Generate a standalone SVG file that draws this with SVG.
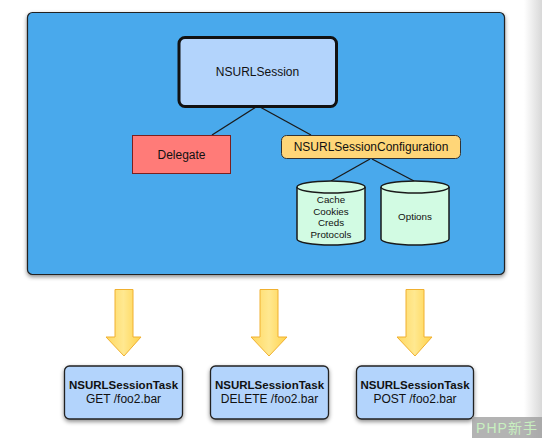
<svg xmlns="http://www.w3.org/2000/svg" width="542" height="438" viewBox="0 0 542 438">
<defs>
<style>
text{font-family:"Liberation Sans",Arial,sans-serif;fill:#111;text-anchor:middle}
.lbl{font-size:12px}
.bold{font-size:11.5px;font-weight:bold}
.sm{font-size:9.8px}
.edge{stroke:#1a1a1a;stroke-width:1.3;fill:none}
.cyl{fill:#d2fbe3;stroke:#1a1a1a;stroke-width:1.5}
.task{fill:#b3d4fc;stroke:#222;stroke-width:1.3}
.arrow{fill:url(#ag);stroke:#f0b030;stroke-width:1}
</style>
<linearGradient id="ag" x1="0" y1="0" x2="1" y2="0">
<stop offset="0" stop-color="#ffd860"/>
<stop offset="0.5" stop-color="#ffe890"/>
<stop offset="1" stop-color="#ffd24a"/>
</linearGradient>
<linearGradient id="edgeg" x1="0" y1="0" x2="1" y2="0">
<stop offset="0" stop-color="#ffffff"/>
<stop offset="1" stop-color="#d8d8d8"/>
</linearGradient>
<filter id="sh" x="-10%" y="-10%" width="120%" height="130%">
<feDropShadow dx="0" dy="2" stdDeviation="2" flood-color="#000" flood-opacity="0.45"/>
</filter>
</defs>
<rect width="542" height="438" fill="#fff"/>
<rect x="524" y="0" width="18" height="438" fill="url(#edgeg)"/>
<g id="container">
<rect x="27.5" y="12.5" width="477" height="262" rx="5" fill="#4aa9ec" stroke="#222" stroke-width="1.2" filter="url(#sh)"/>
</g>
<g id="connectors">
<line class="edge" x1="256" y1="107" x2="212" y2="135"/>
<line class="edge" x1="260" y1="107" x2="311" y2="135"/>
<line class="edge" x1="370" y1="159" x2="331" y2="181"/>
<line class="edge" x1="372" y1="159" x2="414" y2="181"/>
<path class="arrow" d="M115,289.5 H133 V337 H141 L124,356 L106,337 H115 Z"/>
<path class="arrow" d="M260,289.5 H278 V337 H287 L269,356 L251,337 H260 Z"/>
<path class="arrow" d="M406,289.5 H424 V337 H432 L415,356 L397,337 H406 Z"/>
</g>
<g id="nsurlsession">
<rect x="179" y="37.5" width="157.5" height="69" rx="6" fill="#b3d4fc" stroke="#111" stroke-width="3"/>
<text class="lbl" x="257.5" y="76">NSURLSession</text>
</g>
<g id="delegate">
<rect x="132.5" y="135.5" width="98" height="38" fill="#ff7b78" stroke="#7a2020" stroke-width="1"/>
<text class="lbl" x="181.5" y="158.5">Delegate</text>
</g>
<g id="configuration">
<rect x="281.5" y="135.5" width="179" height="23" rx="5" fill="#ffd678" stroke="#333" stroke-width="1"/>
<text class="lbl" x="371" y="150.5">NSURLSessionConfiguration</text>
</g>
<g id="cylinder-cache">
<path class="cyl" d="M297,187 V239 A34,6 0 0 0 365,239 V187 A34,6 0 0 0 297,187 Z"/>
<path class="cyl" d="M297,187 A34,6 0 0 0 365,187" fill="none"/>
<text class="sm" x="331" y="202.5">Cache</text>
<text class="sm" x="331" y="214.5">Cookies</text>
<text class="sm" x="331" y="226">Creds</text>
<text class="sm" x="331" y="238">Protocols</text>
</g>
<g id="cylinder-options">
<path class="cyl" d="M381,187 V239 A34,6 0 0 0 449,239 V187 A34,6 0 0 0 381,187 Z"/>
<path class="cyl" d="M381,187 A34,6 0 0 0 449,187" fill="none"/>
<text class="sm" x="415" y="220">Options</text>
</g>
<g id="task-get">
<rect class="task" x="64.5" y="366" width="118" height="53" rx="5" filter="url(#sh)"/>
<text class="bold" x="123.5" y="389">NSURLSessionTask</text>
<text class="lbl" x="123.5" y="403">GET /foo2.bar</text>
</g>
<g id="task-delete">
<rect class="task" x="210.5" y="366" width="118" height="53" rx="5" filter="url(#sh)"/>
<text class="bold" x="269.5" y="389">NSURLSessionTask</text>
<text class="lbl" x="269.5" y="403">DELETE /foo2.bar</text>
</g>
<g id="task-post">
<rect class="task" x="356.5" y="366" width="117" height="53" rx="5" filter="url(#sh)"/>
<text class="bold" x="415" y="389">NSURLSessionTask</text>
<text class="lbl" x="415" y="403">POST /foo2.bar</text>
</g>
<g id="watermark">
<rect x="472" y="417" width="70" height="21" fill="#9a9a9a" fill-opacity="0.75"/>
<text x="507" y="433" style="font-family:'Liberation Sans','Noto Sans CJK SC',sans-serif;font-size:14px;fill:#c8f0c0;letter-spacing:1px">PHP新手</text>
</g>
</svg>
